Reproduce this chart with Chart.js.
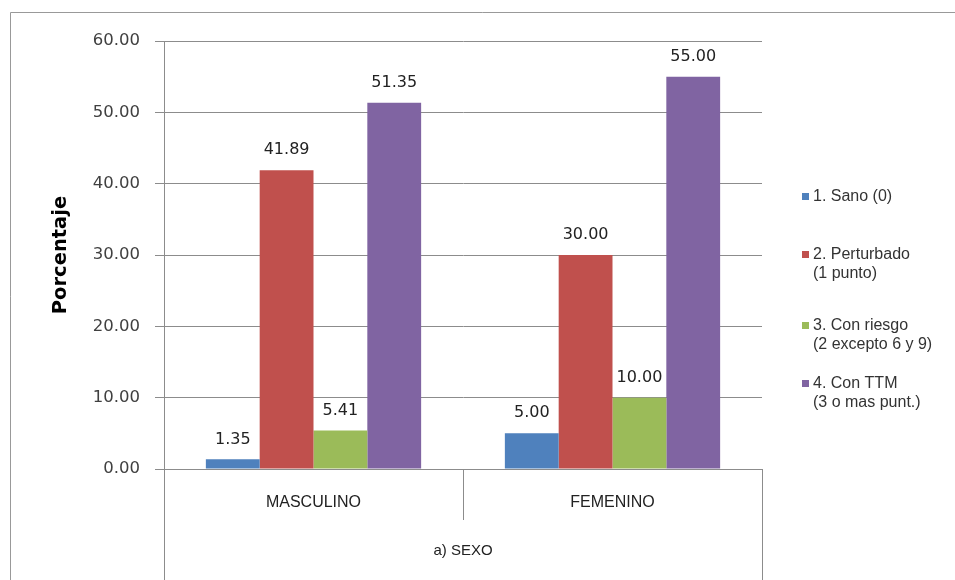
<!DOCTYPE html>
<html>
<head>
<meta charset="utf-8">
<script src="https://cdn.jsdelivr.net/npm/chart.js@4.4.1/dist/chart.umd.min.js"></script>
<style>
    html, body { margin: 0; padding: 0; background: #fff; }
    #wrap { width: 955px; height: 580px; }
</style>
</head>
<body>
<div id="wrap"><canvas id="chart" width="955" height="580"></canvas></div>
<script>
const categories = ['MASCULINO', 'FEMENINO'];
const seriesNames = [
    ['1. Sano (0)'],
    ['2. Perturbado', '(1 punto)'],
    ['3. Con riesgo', '(2 excepto 6 y 9)'],
    ['4. Con TTM', '(3 o mas punt.)']
];
const sano = [1.35, 5.00];
const perturbado = [41.89, 30.00];
const conRiesgo = [5.41, 10.00];
const conTTM = [51.35, 55.00];
const seriesColors = ['#4f81bd', '#c0504d', '#9bbb59', '#8064a2'];
const yMin = 0, yMax = 60, yStep = 10;

const lineColor = '#8c8c8c';
const legendRows = [197, 255, 326, 384];

const seriesValues = [sano, perturbado, conRiesgo, conTTM];

// value labels above every bar
const valueLabels = {
    id: 'valueLabels',
    afterDatasetsDraw(chart) {
        const ctx = chart.ctx;
        ctx.save();
        ctx.font = '16px "DejaVu Sans"';
        ctx.fillStyle = '#222';
        ctx.textAlign = 'center';
        ctx.textBaseline = 'middle';
        chart.data.datasets.forEach((ds, i) => {
            chart.getDatasetMeta(i).data.forEach((bar, j) => {
                ctx.fillText(ds.data[j].toFixed(2), bar.x, bar.y - 20);
            });
        });
        ctx.restore();
    }
};

// outer frame and the boxes under the category axis
const frame = {
    id: 'frame',
    afterDraw(chart) {
        const ctx = chart.ctx;
        const x = chart.scales.x;
        const h = chart.height;
        ctx.save();
        ctx.strokeStyle = '#999';
        ctx.lineWidth = 1;
        ctx.beginPath();
        ctx.moveTo(10.5, h);
        ctx.lineTo(10.5, 12.5);
        ctx.lineTo(chart.width, 12.5);
        ctx.stroke();

        ctx.strokeStyle = lineColor;
        const n = chart.data.labels.length;
        for (let i = 0; i <= n; i++) {
            const px = Math.round(x.getPixelForValue(i - 0.5)) + 0.5;
            const end = (i === 0 || i === n) ? h : x.top + 51;
            ctx.beginPath();
            ctx.moveTo(px, x.top);
            ctx.lineTo(px, end);
            ctx.stroke();
        }
        ctx.restore();
    }
};

// legend on the right, labels split on two lines
const sideLegend = {
    id: 'sideLegend',
    afterDraw(chart) {
        const ctx = chart.ctx;
        ctx.save();
        ctx.font = '16px "Liberation Sans"';
        ctx.textBaseline = 'middle';
        chart.data.datasets.forEach((ds, i) => {
            const y = legendRows[i];
            ctx.fillStyle = ds.backgroundColor;
            ctx.fillRect(802, y - 4, 7, 7);
            ctx.fillStyle = '#333';
            ds.legendLines.forEach((line, k) => {
                ctx.fillText(line, 813, y + k * 19);
            });
        });
        ctx.restore();
    }
};

new Chart(document.getElementById('chart'), {
    type: 'bar',
    data: {
        labels: categories,
        datasets: seriesValues.map((vals, i) => ({
            label: seriesNames[i].join(' '),
            legendLines: seriesNames[i],
            data: vals,
            backgroundColor: seriesColors[i],
            borderWidth: 0,
            categoryPercentage: 0.72,
            barPercentage: 1.0
        }))
    },
    options: {
        responsive: false,
        animation: false,
        devicePixelRatio: 1,
        layout: { padding: { left: 0, top: 41, right: 193, bottom: 0 } },
        plugins: {
            legend: { display: false },
            tooltip: { enabled: false }
        },
        scales: {
            x: {
                grid: { display: false, drawTicks: false },
                border: { color: lineColor },
                ticks: {
                    font: { family: 'Liberation Sans', size: 16 },
                    color: '#222',
                    padding: 24
                },
                title: {
                    display: true,
                    text: 'a) SEXO',
                    font: { family: 'Liberation Sans', size: 15 },
                    color: '#222',
                    padding: { top: 0, bottom: 20 }
                },
                afterFit(s) { s.height = 111; }
            },
            y: {
                min: yMin,
                max: yMax,
                ticks: {
                    stepSize: yStep,
                    callback: v => v.toFixed(2),
                    font: { family: 'DejaVu Sans', size: 16.5 },
                    color: '#404040',
                    padding: 15
                },
                grid: { color: lineColor, tickLength: 9 },
                border: { color: lineColor },
                title: {
                    display: true,
                    text: 'Porcentaje',
                    font: { family: 'DejaVu Sans', size: 19.5, weight: 'bold' },
                    color: '#000',
                    padding: { top: 49, bottom: 0 }
                },
                afterFit(s) { s.width = 164; }
            }
        }
    },
    plugins: [valueLabels, frame, sideLegend]
});
</script>
</body>
</html>
